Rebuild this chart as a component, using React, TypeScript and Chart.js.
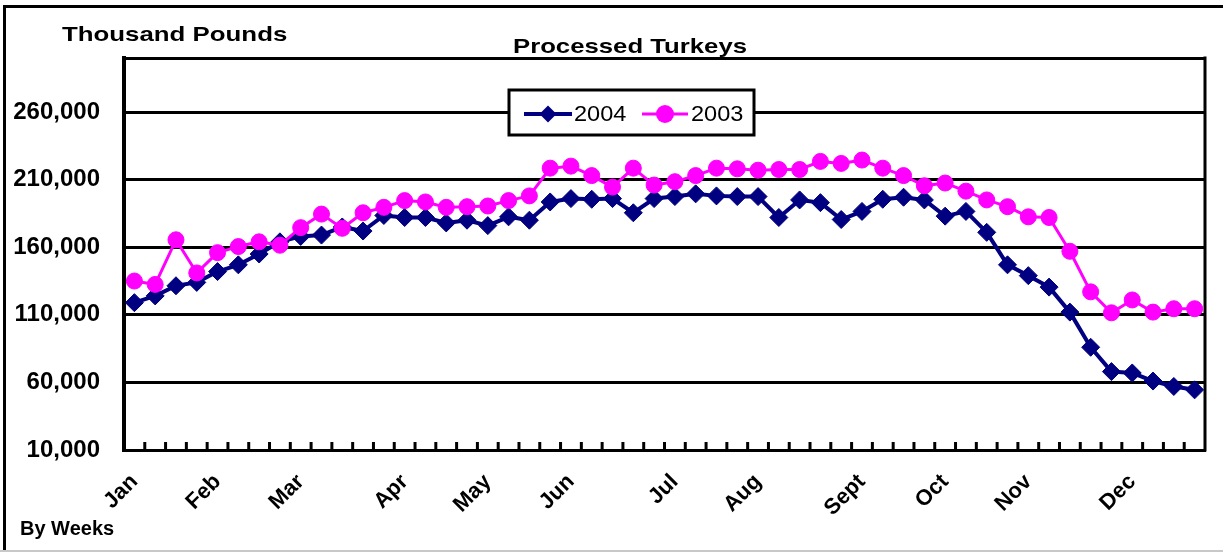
import React, { useEffect, useRef } from 'react';
import { Chart, registerables } from 'chart.js';

Chart.register(...registerables);

// ---------- data ----------
const weekLabels: string[] = [
  'Jan', '', '', '', 'Feb', '', '', '', 'Mar', '', '', '', '',
  'Apr', '', '', '', 'May', '', '', '', 'Jun', '', '', '', '',
  'Jul', '', '', '', 'Aug', '', '', '', '', 'Sept', '', '', '',
  'Oct', '', '', '', 'Nov', '', '', '', '', 'Dec', '', '', '',
];

const series2004: number[] = [
  119000, 124000, 131500, 134000, 142000, 147000, 155000, 164000, 168000, 169000,
  175000, 172000, 183500, 182000, 182000, 178000, 180000, 176000, 182500, 180000,
  193500, 196000, 195500, 196000, 185500, 196000, 197500, 199500, 198000, 197500,
  197500, 182000, 195000, 193000, 180500, 186500, 195500, 197000, 195000, 183000,
  186500, 171000, 147000, 139000, 130500, 112000, 86000, 68000, 67000, 61000,
  57000, 54500,
];

const series2003: number[] = [
  135000, 132500, 165500, 141000, 156000, 160500, 164000, 161500, 174500, 184500,
  174000, 185500, 189500, 194500, 193500, 189500, 190000, 190500, 194500, 198000,
  218500, 220000, 213000, 204500, 218500, 206000, 208500, 213000, 218500, 218000,
  217000, 217500, 217500, 223500, 222000, 224500, 218500, 213000, 205500, 207500,
  201500, 195000, 190000, 182500, 182000, 157000, 127000, 111500, 121000, 112000,
  114500, 114500,
];

const seriesNames: string[] = ['2004', '2003'];
const yTickValues: number[] = [10000, 60000, 110000, 160000, 210000, 260000];
const yMin = 10000;
const yMax = 300000;

// ---------- styles ----------
const NAVY = '#000080';
const MAGENTA = '#FF00FF';
const FONT = '"Liberation Sans", Arial, Helvetica, sans-serif';

function stretchedText(
  ctx: CanvasRenderingContext2D,
  text: string,
  x: number,
  y: number,
  font: string,
  sx: number,
  align: 'left' | 'center' | 'right'
) {
  ctx.save();
  ctx.font = font;
  ctx.textBaseline = 'alphabetic';
  ctx.textAlign = 'left';
  const w = ctx.measureText(text).width * sx;
  const x0 = align === 'center' ? x - w / 2 : align === 'right' ? x - w : x;
  ctx.translate(x0, y);
  ctx.scale(sx, 1);
  ctx.fillStyle = '#000';
  ctx.fillText(text, 0, 0);
  ctx.restore();
}

const decorPlugin = {
  id: 'decor',
  beforeDraw(chart: any) {
    const ctx: CanvasRenderingContext2D = chart.ctx;
    ctx.save();
    ctx.fillStyle = '#fff';
    ctx.fillRect(0, 0, chart.width, chart.height);
    // outer frame
    ctx.strokeStyle = '#000';
    ctx.lineWidth = 3;
    ctx.beginPath();
    ctx.moveTo(4.5, chart.height);
    ctx.lineTo(4.5, 6.5);
    ctx.lineTo(chart.width, 6.5);
    ctx.stroke();
    ctx.strokeStyle = '#c8c8c8';
    ctx.lineWidth = 2;
    ctx.beginPath();
    ctx.moveTo(0, 551);
    ctx.lineTo(chart.width, 551);
    ctx.stroke();
    ctx.restore();
  },
  beforeDatasetsDraw(chart: any) {
    const ctx: CanvasRenderingContext2D = chart.ctx;
    const area = chart.chartArea;
    const xs = chart.scales.x;
    ctx.save();
    ctx.strokeStyle = '#000';
    // right border of plot
    ctx.lineWidth = 3;
    ctx.beginPath();
    ctx.moveTo(area.right, area.top - 1.5);
    ctx.lineTo(area.right, area.bottom + 1.5);
    ctx.stroke();
    // inward tick marks between weeks
    ctx.lineWidth = 3;
    ctx.beginPath();
    for (let i = 1; i < weekLabels.length; i++) {
      const x = (xs.getPixelForValue(i - 1) + xs.getPixelForValue(i)) / 2;
      ctx.moveTo(x, area.bottom - 8);
      ctx.lineTo(x, area.bottom);
    }
    ctx.stroke();
    ctx.restore();
  },
  afterDraw(chart: any) {
    const ctx: CanvasRenderingContext2D = chart.ctx;
    // titles
    stretchedText(ctx, 'Thousand Pounds', 62, 41, `bold 20.5px ${FONT}`, 1.26, 'left');
    stretchedText(ctx, 'Processed Turkeys', 630, 53, `bold 20.5px ${FONT}`, 1.255, 'center');
    stretchedText(ctx, 'By Weeks', 20, 535, `bold 20px ${FONT}`, 1.0, 'left');

    // legend box
    const bx = 509, by = 90, bw = 245, bh = 45;
    ctx.save();
    ctx.fillStyle = '#fff';
    ctx.fillRect(bx, by, bw, bh);
    ctx.strokeStyle = '#000';
    ctx.lineWidth = 3;
    ctx.strokeRect(bx, by, bw, bh);
    const ly = 114;
    const items = [
      { x0: 524, x1: 572, tx: 574 },
      { x0: 642, x1: 688, tx: 691 },
    ];
    chart.data.datasets.forEach((ds: any, idx: number) => {
      const it = items[idx];
      if (!it) return;
      ctx.strokeStyle = ds.borderColor;
      ctx.lineWidth = ds.borderWidth;
      ctx.beginPath();
      ctx.moveTo(it.x0, ly);
      ctx.lineTo(it.x1, ly);
      ctx.stroke();
      ctx.fillStyle = ds.backgroundColor;
      const cx = (it.x0 + it.x1) / 2;
      ctx.beginPath();
      if (ds.pointStyle === 'rectRot') {
        const r = 8.5;
        ctx.moveTo(cx - r, ly);
        ctx.lineTo(cx, ly - r);
        ctx.lineTo(cx + r, ly);
        ctx.lineTo(cx, ly + r);
        ctx.closePath();
      } else {
        ctx.arc(cx, ly, 9, 0, Math.PI * 2);
      }
      ctx.fill();
      stretchedText(ctx, ds.label, it.tx, 121, `22px ${FONT}`, 1.07, 'left');
    });
    ctx.restore();
  },
};

export default function App() {
  const canvasRef = useRef<HTMLCanvasElement | null>(null);

  useEffect(() => {
    const canvas = canvasRef.current;
    if (!canvas) return;
    const chart = new Chart(canvas, {
      type: 'line',
      data: {
        labels: weekLabels,
        datasets: [
          {
            label: seriesNames[0],
            data: series2004,
            borderColor: NAVY,
            backgroundColor: NAVY,
            pointBackgroundColor: NAVY,
            pointBorderColor: NAVY,
            borderWidth: 4,
            pointStyle: 'rectRot',
            pointRadius: 9,
            pointBorderWidth: 1,
            tension: 0,
            fill: false,
            order: 1,
          } as any,
          {
            label: seriesNames[1],
            data: series2003,
            borderColor: MAGENTA,
            backgroundColor: MAGENTA,
            pointBackgroundColor: MAGENTA,
            pointBorderColor: MAGENTA,
            borderWidth: 3,
            pointStyle: 'circle',
            pointRadius: 8,
            pointBorderWidth: 1,
            tension: 0,
            fill: false,
            order: 0,
          } as any,
        ],
      },
      options: {
        animation: false,
        responsive: false,
        maintainAspectRatio: false,
        devicePixelRatio: 1,
        layout: { padding: { left: 0, right: 18, top: 58, bottom: 0 } },
        plugins: {
          legend: { display: false },
          title: { display: false },
          tooltip: { enabled: false },
        },
        elements: { line: { borderCapStyle: 'round', borderJoinStyle: 'round' } },
        scales: {
          x: {
            type: 'category',
            offset: true,
            grid: { display: false, drawTicks: false },
            border: { display: true, color: '#000', width: 3 },
            ticks: {
              autoSkip: false,
              maxRotation: 45,
              minRotation: 45,
              padding: 19,
              color: '#000',
              font: { family: FONT, size: 22, weight: 'bold' },
            },
            afterFit: (s: any) => {
              s.height = 102;
              s.paddingLeft = 0;
              s.paddingRight = 0;
            },
          },
          y: {
            min: yMin,
            max: yMax,
            afterBuildTicks: (s: any) => {
              s.ticks = [...yTickValues, yMax].map((v) => ({ value: v }));
            },
            ticks: {
              padding: 24,
              color: '#000',
              font: { family: FONT, size: 24, weight: 'bold' },
              callback: (v: any) =>
                yTickValues.includes(Number(v)) ? Number(v).toLocaleString('en-US') : '',
            },
            grid: { color: '#000', lineWidth: 3, drawTicks: false },
            border: { display: true, color: '#000', width: 4 },
            afterFit: (s: any) => {
              s.width = 124;
              s.paddingTop = 0;
              s.paddingBottom = 0;
            },
          },
        },
      } as any,
      plugins: [decorPlugin],
    });
    return () => chart.destroy();
  }, []);

  return (
    <div
      style={{
        position: 'fixed',
        left: 0,
        top: 0,
        width: 1223,
        height: 552,
        background: '#fff',
        overflow: 'hidden',
      }}
    >
      <canvas ref={canvasRef} width={1223} height={552} style={{ display: 'block' }} />
    </div>
  );
}
